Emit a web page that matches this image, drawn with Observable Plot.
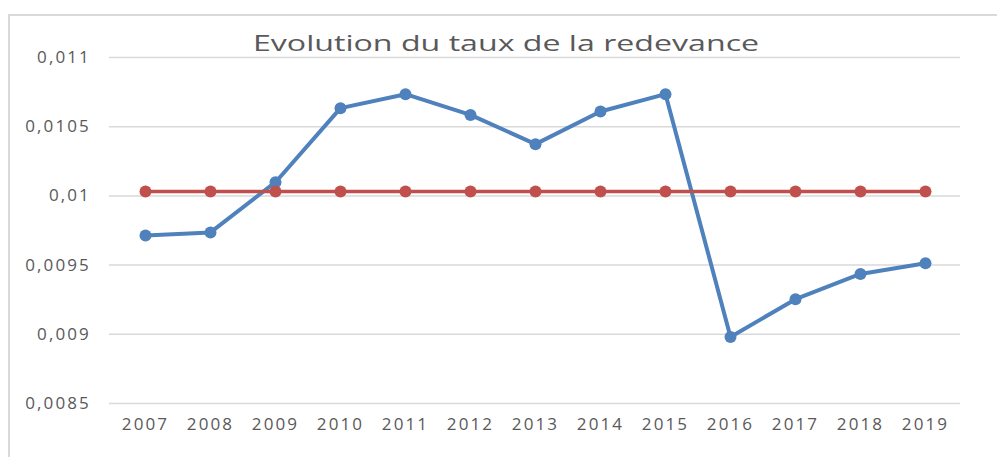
<!DOCTYPE html>
<html><head><meta charset="utf-8">
<script src="https://cdn.jsdelivr.net/npm/d3@7"></script>
<script src="https://cdn.jsdelivr.net/npm/@observablehq/plot@0.6"></script>
<style>
html,body{margin:0;padding:0;background:#fff;}
body{width:997px;height:457px;overflow:hidden;position:relative;font-family:"Open Sans",sans-serif;}
#frame{position:absolute;left:8px;top:14px;width:995px;height:460px;border-left:2px solid #d9d9d9;border-top:2px solid #d9d9d9;pointer-events:none;}
#title{height:38px;position:relative;z-index:1;}
#title span{position:absolute;left:0;top:33px;width:1012px;text-align:center;font-size:21px;line-height:21px;color:#595959;transform:scaleX(1.53);transform-origin:506px 0;white-space:nowrap;}
#chart svg text{letter-spacing:2.1px;}
</style>
</head><body>
<div id="frame"></div>
<div id="title"><span>Evolution du taux de la redevance</span></div>
<div id="chart"></div>
<script>
const years = ["2007","2008","2009","2010","2011","2012","2013","2014","2015","2016","2017","2018","2019"];
const tauxRedevance = [0.009714,0.009736,0.010099,0.010634,0.010735,0.010585,0.010374,0.01061,0.010735,0.008981,0.009254,0.009436,0.009514];
const tauxReference = [0.010032,0.010032,0.010032,0.010032,0.010032,0.010032,0.010032,0.010032,0.010032,0.010032,0.010032,0.010032,0.010032];
const yTicks = [0.0085,0.009,0.0095,0.01,0.0105,0.011];
const yTickLabels = ["0,0085","0,009","0,0095","0,01","0,0105","0,011"];

const blue = years.map((y,i)=>({year:y, value:tauxRedevance[i]}));
const red = years.map((y,i)=>({year:y, value:tauxReference[i]}));
const labelMap = new Map(yTicks.map((t,i)=>[t, yTickLabels[i]]));

const chart = Plot.plot({
  width: 997,
  height: 419,
  marginLeft: 109,
  marginRight: 37,
  marginTop: 19,
  marginBottom: 54,
  style: {fontFamily: "'Open Sans', sans-serif", fontSize: "17px", color: "#595959", background: "transparent"},
  x: {type: "point", domain: years, padding: 0.5, tickSize: 0, tickPadding: 14, label: null},
  y: {domain: [0.0085, 0.011], ticks: yTicks, tickSize: 0, tickPadding: 18.6, tickFormat: d => labelMap.get(d), label: null},
  marks: [
    Plot.ruleY(yTicks, {stroke: "#d9d9d9", strokeWidth: 1.5}),
    Plot.line(blue, {x: "year", y: "value", stroke: "#4F81BD", strokeWidth: 4}),
    Plot.dot(blue, {x: "year", y: "value", fill: "#4F81BD", r: 6}),
    Plot.line(red, {x: "year", y: "value", stroke: "#C0504D", strokeWidth: 3.5}),
    Plot.dot(red, {x: "year", y: "value", fill: "#C0504D", r: 6})
  ]
});
document.getElementById("chart").appendChild(chart);
</script>
</body></html>
